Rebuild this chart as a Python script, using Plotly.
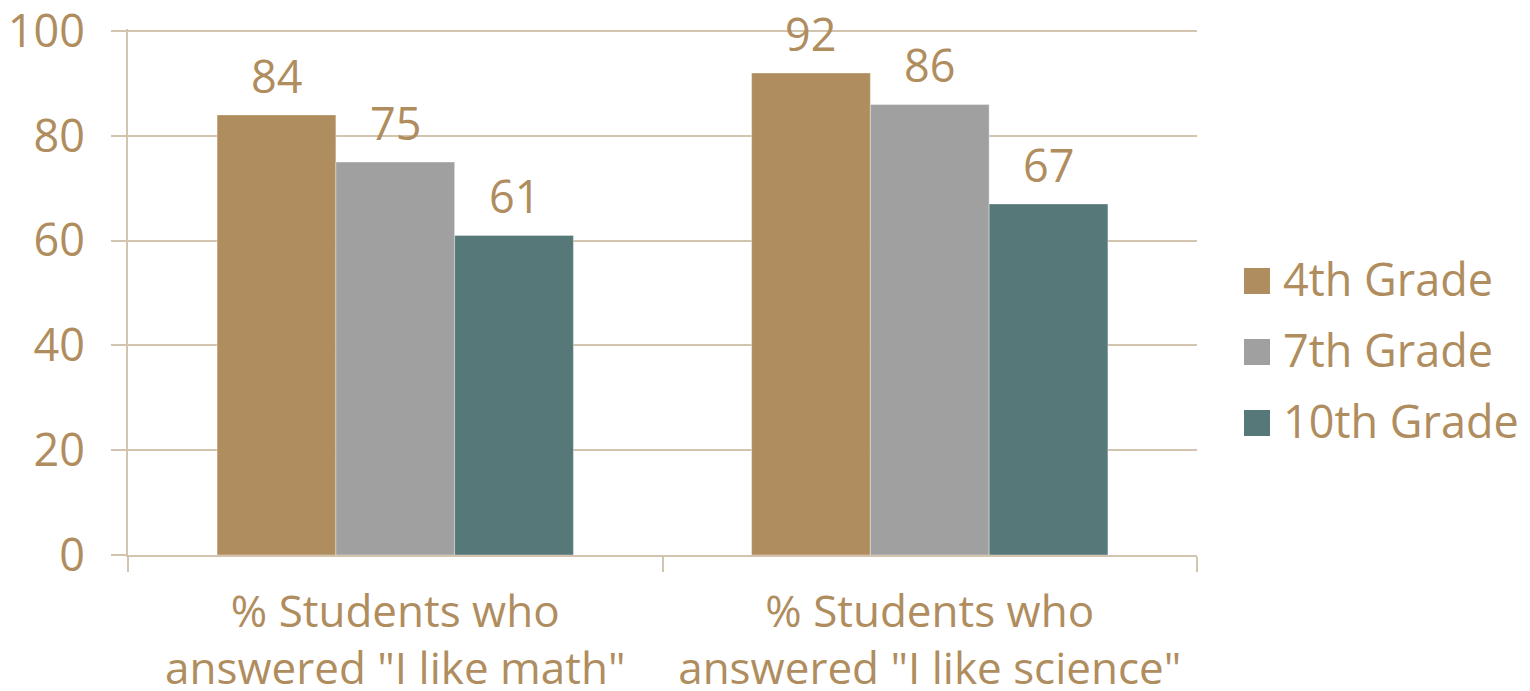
import plotly.graph_objects as go

# Survey data
categories = ['% Students who<br>answered "I like math"',
              '% Students who<br>answered "I like science"']
series_names = ["4th Grade", "7th Grade", "10th Grade"]
grade4 = [84, 92]
grade7 = [75, 86]
grade10 = [61, 67]
values = [grade4, grade7, grade10]
y_ticks = [0, 20, 40, 60, 80, 100]

colors = ["#B08D5E", "#A0A0A0", "#567878"]
gold = "#B08D5E"
grid = "#D3C4AF"
font_family = "Open Sans, sans-serif"
fsize = 44

W, H = 1530, 691
ml, mr, mt, mb = 128, 333, 29, 136
pw, ph = W - ml - mr, H - mt - mb

def px_x(x):
    return (x - ml) / pw

def px_y(y):
    return 1 - (y - mt) / ph

fig = go.Figure()
bargap = 1 / 3
bar_w = (1 - bargap) / len(series_names)

for i, (name, vals) in enumerate(zip(series_names, values)):
    fig.add_trace(go.Bar(
        x=categories, y=vals, name=name,
        marker=dict(color=colors[i], line=dict(width=0.6, color="rgba(255,255,255,0.6)")),
        showlegend=False, cliponaxis=False,
    ))
    # value labels above each bar
    offset = (i - (len(series_names) - 1) / 2) * bar_w
    for j, v in enumerate(vals):
        fig.add_annotation(
            x=j + offset, y=v, xref="x", yref="y", text=str(v),
            showarrow=False, yanchor="bottom", yshift=7,
            font=dict(family=font_family, size=45, color=gold),
        )

# legend drawn as swatches + labels
for i, name in enumerate(series_names):
    cy = 281 + i * 71
    fig.add_shape(type="rect", xref="paper", yref="paper",
                  x0=px_x(1244), x1=px_x(1270), y0=px_y(cy - 13), y1=px_y(cy + 13),
                  fillcolor=colors[i], line=dict(width=0))
    fig.add_annotation(xref="paper", yref="paper", x=px_x(1281), y=px_y(cy - 3),
                       text=name, showarrow=False, xanchor="left", yanchor="middle",
                       font=dict(family=font_family, size=45, color=gold))

fig.update_layout(
    width=W, height=H,
    margin=dict(l=ml, r=mr, t=mt, b=mb),
    paper_bgcolor="white", plot_bgcolor="white",
    barmode="group", bargap=bargap, bargroupgap=0,
    font=dict(family=font_family, size=fsize, color=gold),
    showlegend=False,
)
fig.update_xaxes(
    type="category", automargin=False,
    showline=True, linecolor=grid, linewidth=2,
    ticks="outside", ticklen=15, tickcolor=grid, tickwidth=1.5,
    tickson="boundaries", showgrid=False,
    ticklabelstandoff=17, ticklabeloverflow="allow",
    tickfont=dict(family=font_family, size=fsize, color=gold),
)
fig.update_yaxes(
    range=[0, 100.4], tickvals=y_ticks, automargin=False,
    showline=True, linecolor=grid, linewidth=2,
    showgrid=True, gridcolor=grid, gridwidth=1.5,
    ticks="outside", ticklen=15, tickcolor=grid, tickwidth=1.5,
    ticklabelstandoff=17, ticklabeloverflow="allow", zeroline=False,
    tickfont=dict(family=font_family, size=45, color=gold),
)

fig.write_html("out.html")
